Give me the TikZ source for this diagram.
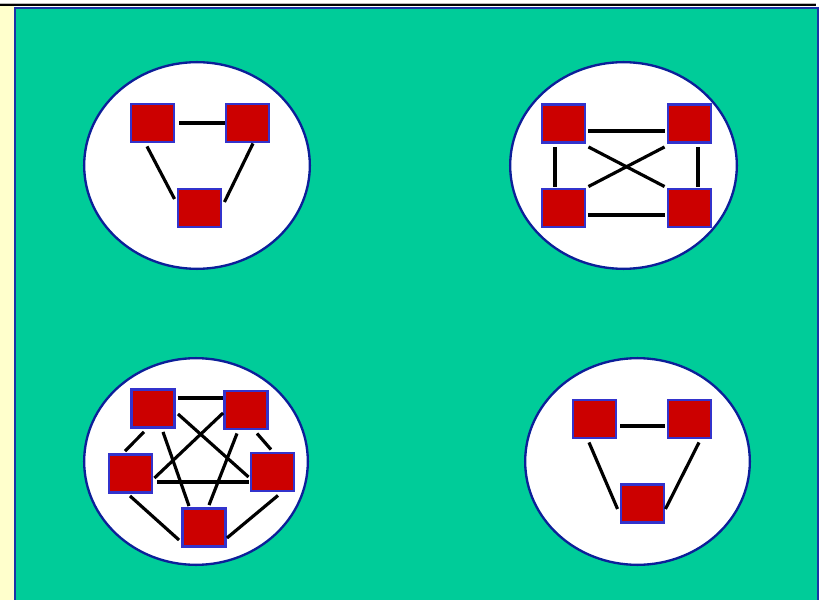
\documentclass[tikz,border=0pt]{standalone}
\usepackage{xcolor}
\definecolor{slidegreen}{HTML}{00CC99}
\definecolor{slideyellow}{HTML}{FFFFCC}
\definecolor{slideblue}{HTML}{1A34A6}
\definecolor{ringblue}{HTML}{0C1F99}
\definecolor{boxred}{HTML}{CC0000}
\definecolor{boxblue}{HTML}{3333CC}
\usepackage{tikz}
\usetikzlibrary{shapes.geometric}

\begin{document}
\begin{tikzpicture}[x=0.03cm, y=-0.03cm,
    site/.style={rectangle, fill=boxred, draw=boxblue, line width=2.2pt,
      minimum width=1.30cm, minimum height=1.15cm, inner sep=0pt},
    group/.style={ellipse, fill=white, draw=ringblue, line width=2pt,
      inner sep=0pt, minimum height=6.2cm},
    link/.style={black, line width=2.7pt}]
  \clip (0,0) rectangle (821,600);
  % slide background
  \fill[white] (0,0) rectangle (821,600);
  \fill[gray!55] (0,3) rectangle (816,4.5);
  \fill[black] (0,4.5) rectangle (816,6);
  \fill[slideyellow] (0,6) rectangle (14,600);
  \filldraw[fill=slidegreen, draw=slideblue, line width=1.9pt] (15,8) rectangle (818,610);

  % the four groups
  \node[group, minimum width=6.77cm] (ring1) at (197,165.5) {};
  \node[group, minimum width=6.80cm] (ring2) at (623.5,165.5) {};
  \node[group, minimum width=6.71cm] (ring3) at (196,461.5) {};
  \node[group, minimum width=6.74cm] (ring4) at (637.5,461.5) {};

  % three sites
  \node[site] (t1) at (152.5,123) {};
  \node[site] (t2) at (247.5,123) {};
  \node[site] (t3) at (199.5,208) {};
  \draw[link] ([shift={(4,0)}]t1.east) -- (t2.west);
  \draw[link] ([shift={(-5.5,3)}]t1.south) -- ([shift={(-2,-9)}]t3.west);
  \draw[link] ([shift={(5.5,0)}]t2.south) -- ([shift={(2,-6)}]t3.east);

  % four sites
  \node[site] (a) at (563.5,123.5) {};
  \node[site] (b) at (689.5,123.5) {};
  \node[site] (c) at (563.5,208) {};
  \node[site] (d) at (689.5,208) {};
  \draw[link] ([shift={(2,7.5)}]a.east) -- ([shift={(-2,7.5)}]b.west);
  \draw[link] ([shift={(2,7)}]c.east) -- ([shift={(-2,7)}]d.west);
  \draw[link] ([shift={(-8.5,3)}]a.south) -- ([shift={(-8.5,-1)}]c.north);
  \draw[link] ([shift={(8.5,3)}]b.south) -- ([shift={(8.5,-1)}]d.north);
  \draw[link] ([shift={(2,3)}]a.south east) -- ([shift={(-2,-1)}]d.north west);
  \draw[link] ([shift={(-2,3)}]b.south west) -- ([shift={(2,-1)}]c.north east);

  % five sites
  \node[site] (p1) at (153,408.5) {};
  \node[site] (p2) at (246,410) {};
  \node[site] (p3) at (130.5,473.5) {};
  \node[site] (p4) at (272.5,472) {};
  \node[site] (p5) at (204,527.5) {};
  \draw[link] ([shift={(2,-10.5)}]p1.east) -- ([shift={(0,-12)}]p2.west);
  \draw[link] ([shift={(-9,3)}]p1.south) -- ([shift={(-5.5,-2)}]p3.north);
  \draw[link] ([shift={(10,3)}]p1.south) -- ([shift={(-15,-1)}]p5.north);
  \draw[link] ([shift={(2,5.5)}]p1.east) -- ([shift={(-1,5)}]p4.west);
  \draw[link] ([shift={(0,3)}]p2.west) -- ([shift={(1,4.5)}]p3.east);
  \draw[link] ([shift={(-9,3)}]p2.south) -- ([shift={(5,-2)}]p5.north);
  \draw[link] ([shift={(11,3)}]p2.south) -- ([shift={(-1.5,-2)}]p4.north);
  \draw[link] ([shift={(4,8.5)}]p3.east) -- ([shift={(-1,10)}]p4.west);
  \draw[link] ([shift={(-0.5,2)}]p3.south) -- ([shift={(-2,12.5)}]p5.west);
  \draw[link] ([shift={(5.5,3)}]p4.south) -- ([shift={(0,10.5)}]p5.east);

  % three sites again
  \node[site] (q1) at (594.5,419) {};
  \node[site] (q2) at (689.5,419) {};
  \node[site] (q3) at (642.5,503.5) {};
  \draw[link] ([shift={(3,7)}]q1.east) -- ([shift={(-2,7)}]q2.west);
  \draw[link] ([shift={(-5.5,3)}]q1.south) -- ([shift={(-2,5.5)}]q3.west);
  \draw[link] ([shift={(9.5,3)}]q2.south) -- ([shift={(0,5.5)}]q3.east);
\end{tikzpicture}
\end{document}
